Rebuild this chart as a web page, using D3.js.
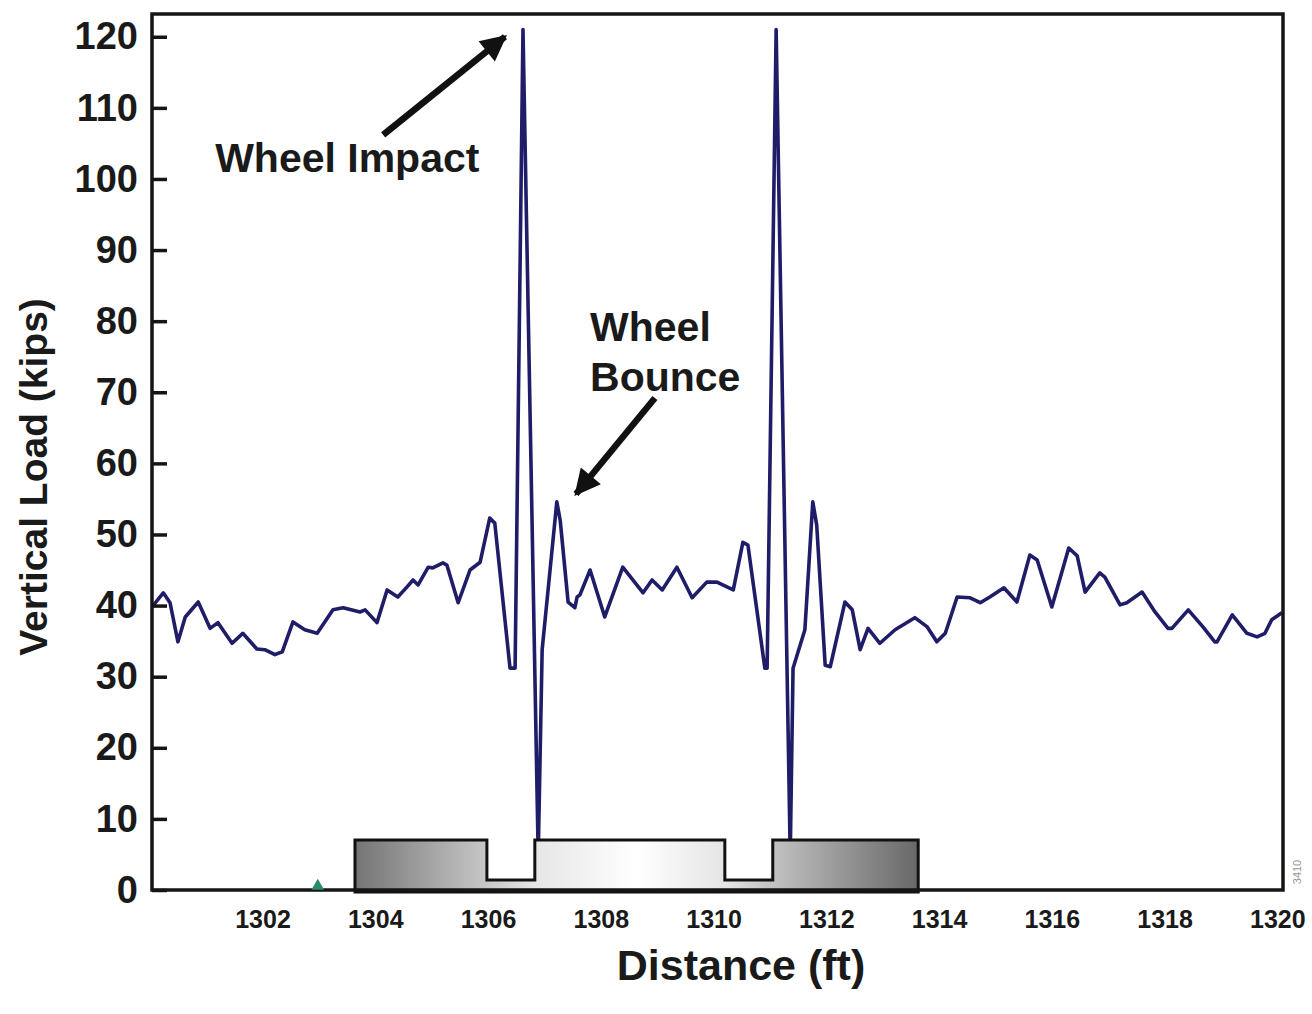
<!DOCTYPE html>
<html lang="en">

<head>
    <meta charset="UTF-8">
    <title>Vertical Load vs Distance</title>
    <script src="https://d3js.org/d3.v7.min.js"></script>
    <style>
        body {
            margin: 0;
            padding: 0;
            background: #fff;
            font-family: "Liberation Sans", Arial, sans-serif;
        }

        svg {
            display: block;
        }

        .tick text {
            font-weight: bold;
            fill: #1a1a1a;
        }

        .label {
            font-weight: bold;
            fill: #1a1a1a;
        }
    </style>
</head>

<body>
<script>
    // measured wheel load trace (ft, kips)
    const distance = [
        1300.04, 1300.24, 1300.36, 1300.50, 1300.63, 1300.86, 1301.07, 1301.21, 1301.46, 1301.65,
        1301.90, 1302.04, 1302.22, 1302.35, 1302.54, 1302.75, 1302.97, 1303.25, 1303.43, 1303.73,
        1303.82, 1304.03, 1304.21, 1304.40, 1304.56, 1304.67, 1304.76, 1304.94, 1305.02, 1305.20,
        1305.27, 1305.47, 1305.68, 1305.86, 1306.03, 1306.12, 1306.39, 1306.48, 1306.62, 1306.89,
        1306.96, 1307.22, 1307.28, 1307.42, 1307.54, 1307.58, 1307.63, 1307.81, 1308.07, 1308.39,
        1308.75, 1308.91, 1309.09, 1309.35, 1309.62, 1309.88, 1310.06, 1310.35, 1310.52, 1310.61,
        1310.91, 1310.95, 1311.11, 1311.36, 1311.41, 1311.62, 1311.76, 1311.83, 1311.98, 1312.07,
        1312.33, 1312.46, 1312.60, 1312.74, 1312.95, 1313.22, 1313.57, 1313.79, 1313.96, 1314.11,
        1314.32, 1314.55, 1314.73, 1314.90, 1315.15, 1315.38, 1315.61, 1315.74, 1316.00, 1316.30,
        1316.45, 1316.59, 1316.85, 1316.94, 1317.21, 1317.33, 1317.60, 1317.83, 1318.06, 1318.13,
        1318.42, 1318.68, 1318.89, 1318.93, 1319.20, 1319.46, 1319.64, 1319.78, 1319.90, 1320.08
    ];
    const load = [
        39.8, 41.8, 40.4, 34.9, 38.4, 40.5, 36.8, 37.6, 34.7, 36.1,
        33.9, 33.8, 33.1, 33.5, 37.7, 36.6, 36.1, 39.4, 39.7, 39.1,
        39.4, 37.6, 42.2, 41.2, 42.6, 43.6, 42.9, 45.4, 45.3, 46.0,
        45.7, 40.4, 45.0, 46.1, 52.3, 51.6, 31.2, 31.2, 121.0, 4.9,
        33.8, 54.6, 52.0, 40.5, 39.7, 41.2, 41.5, 45.0, 38.4, 45.4,
        41.8, 43.6, 42.2, 45.4, 41.1, 43.3, 43.3, 42.2, 48.9, 48.5,
        31.2, 31.2, 121.0, 4.9, 31.2, 36.6, 54.6, 51.3, 31.6, 31.4,
        40.5, 39.4, 33.8, 36.8, 34.7, 36.6, 38.3, 37.0, 34.9, 36.1,
        41.2, 41.1, 40.4, 41.2, 42.5, 40.5, 47.1, 46.4, 39.8, 48.1,
        47.0, 41.9, 44.6, 44.0, 40.1, 40.4, 41.9, 39.1, 36.8, 36.8,
        39.4, 37.0, 34.9, 34.9, 38.7, 36.1, 35.6, 36.1, 38.0, 39.0
    ];

    const xTicks = [1302, 1304, 1306, 1308, 1310, 1312, 1314, 1316, 1318, 1320];
    const yTicks = [0, 10, 20, 30, 40, 50, 60, 70, 80, 90, 100, 110, 120];

    // rail joint profile drawn along the bottom (ft, kips)
    const railX = [1303.64, 1305.98, 1305.98, 1306.83, 1306.83, 1310.20, 1310.20, 1311.05, 1311.05, 1313.63, 1313.63, 1303.64];
    const railY = [7.03, 7.03, 1.41, 1.41, 7.03, 7.03, 1.41, 1.41, 7.03, 7.03, -0.28, -0.28];

    // annotations: text and arrows (ft, kips)
    const notes = [
        { text: "Wheel Impact", x: 1301.16, y: 101.0 },
        { text: "Wheel", x: 1307.81, y: 77.2 },
        { text: "Bounce", x: 1307.81, y: 70.2 }
    ];
    const arrows = [
        { x1: 1304.14, y1: 106.2, x2: 1306.30, y2: 120.0 },
        { x1: 1308.96, y1: 69.2, x2: 1307.56, y2: 55.7 }
    ];
    const marker = { x: 1302.98, y: 0 };

    const width = 1312, height = 1014;
    const plot = { left: 152, right: 1283, top: 14, bottom: 890 };

    const x = d3.scaleLinear().domain([1300.04, 1320.1]).range([plot.left, plot.right]);
    const y = d3.scaleLinear().domain([0, 123.2]).range([plot.bottom, plot.top]);

    const svg = d3.select("body").append("svg")
        .attr("width", width)
        .attr("height", height);

    const defs = svg.append("defs");
    const grad = defs.append("linearGradient")
        .attr("id", "railGrad")
        .attr("x1", "0%").attr("x2", "100%")
        .attr("y1", "0%").attr("y2", "0%");
    [
        [0, "#747474"], [0.23, "#c6c6c6"], [0.32, "#e6e6e6"], [0.5, "#ffffff"],
        [0.66, "#e4e4e4"], [0.74, "#c2c2c2"], [1, "#686868"]
    ].forEach(([o, c]) => grad.append("stop").attr("offset", o).attr("stop-color", c));

    defs.append("marker")
        .attr("id", "head")
        .attr("viewBox", "0 0 10 10")
        .attr("refX", 9).attr("refY", 5)
        .attr("markerWidth", 4.6).attr("markerHeight", 4.0)
        .attr("markerUnits", "strokeWidth")
        .attr("orient", "auto")
        .append("path")
        .attr("d", "M0,0 L10,5 L0,10 Z")
        .attr("fill", "#111");

    // load trace
    const pts = distance.map((d, i) => [d, load[i]]);
    svg.append("path")
        .datum(pts)
        .attr("fill", "none")
        .attr("stroke", "#1f1c68")
        .attr("stroke-width", 3.6)
        .attr("stroke-linejoin", "round")
        .attr("d", d3.line().x(d => x(d[0])).y(d => y(d[1])));

    // rail joint
    const railPts = railX.map((d, i) => [x(d), y(railY[i])]);
    svg.append("path")
        .attr("d", "M" + railPts.join("L") + "Z")
        .attr("fill", "url(#railGrad)")
        .attr("stroke", "#111")
        .attr("stroke-width", 3)
        .attr("stroke-linejoin", "miter");

    // frame
    svg.append("rect")
        .attr("x", plot.left)
        .attr("y", plot.top)
        .attr("width", plot.right - plot.left)
        .attr("height", plot.bottom - plot.top)
        .attr("fill", "none")
        .attr("stroke", "#151515")
        .attr("stroke-width", 3.5);

    // y axis, ticks pointing inward
    const yAxis = svg.append("g")
        .attr("transform", `translate(${plot.left},0)`)
        .call(d3.axisLeft(y).tickValues(yTicks).tickSize(-15).tickPadding(14));
    yAxis.select(".domain").remove();
    yAxis.selectAll(".tick line").attr("stroke", "#151515").attr("stroke-width", 3.5);
    yAxis.selectAll(".tick text").attr("font-size", 38).attr("font-family", "Liberation Sans, Arial, sans-serif");

    // x axis, labels only
    const xAxis = svg.append("g")
        .attr("transform", `translate(0,${plot.bottom})`)
        .call(d3.axisBottom(x).tickValues(xTicks).tickSize(0).tickPadding(20).tickFormat(d3.format("d")));
    xAxis.select(".domain").remove();
    xAxis.selectAll(".tick text")
        .attr("font-size", 25)
        .attr("font-family", "Liberation Sans, Arial, sans-serif")
        .attr("fill", "#222");

    // titles
    svg.append("text")
        .attr("class", "label")
        .attr("x", 741)
        .attr("y", 980)
        .attr("text-anchor", "middle")
        .attr("font-size", 43)
        .text("Distance (ft)");

    svg.append("text")
        .attr("class", "label")
        .attr("transform", "translate(47,477) rotate(-90)")
        .attr("text-anchor", "middle")
        .attr("font-size", 39)
        .text("Vertical Load (kips)");

    // annotations
    svg.selectAll(".note")
        .data(notes)
        .enter().append("text")
        .attr("class", "label note")
        .attr("x", d => x(d.x))
        .attr("y", d => y(d.y))
        .attr("font-size", 41)
        .text(d => d.text);

    svg.selectAll(".arrow")
        .data(arrows)
        .enter().append("line")
        .attr("class", "arrow")
        .attr("x1", d => x(d.x1))
        .attr("y1", d => y(d.y1))
        .attr("x2", d => x(d.x2))
        .attr("y2", d => y(d.y2))
        .attr("stroke", "#111")
        .attr("stroke-width", 6.5)
        .attr("marker-end", "url(#head)");

    // small green marker on the axis
    svg.append("path")
        .attr("d", d3.symbol().type(d3.symbolTriangle).size(70))
        .attr("transform", `translate(${x(marker.x)},${y(marker.y) - 4})`)
        .attr("fill", "#2b8a6c");

    // figure number
    svg.append("text")
        .attr("transform", "translate(1301,872) rotate(-90)")
        .attr("text-anchor", "middle")
        .attr("font-size", 11)
        .attr("fill", "#999")
        .text("3410");
</script>
</body>

</html>
